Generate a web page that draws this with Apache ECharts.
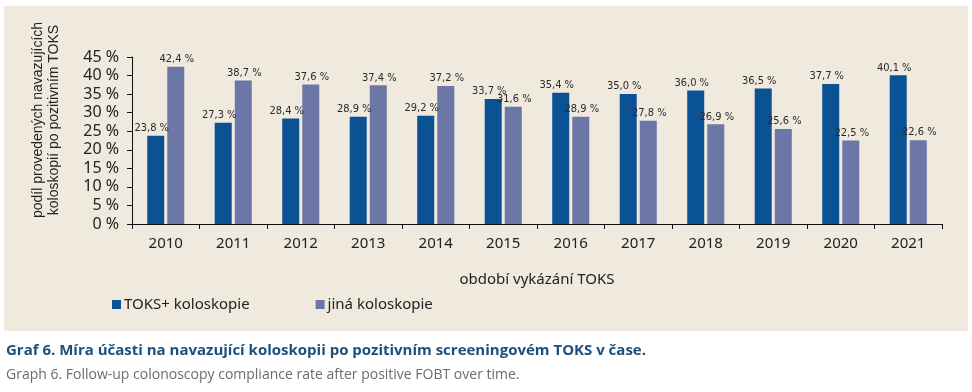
<!DOCTYPE html>
<html><head><meta charset="utf-8">
<script src="https://cdn.jsdelivr.net/npm/echarts@6/dist/echarts.min.js"></script>
<style>html,body{margin:0;padding:0;background:#fff}#c{width:972px;height:392px}</style>
</head><body><div id="c"></div>
<script>
const years = ['2010','2011','2012','2013','2014','2015','2016','2017','2018','2019','2020','2021'];
const toksPlus = [23.8, 27.3, 28.4, 28.9, 29.2, 33.7, 35.4, 35.0, 36.0, 36.5, 37.7, 40.1];
const jina = [42.4, 38.7, 37.6, 37.4, 37.2, 31.6, 28.9, 27.8, 26.9, 25.6, 22.5, 22.6];
const yTicks = [0, 5, 10, 15, 20, 25, 30, 35, 40, 45];
const seriesNames = ['TOKS+ koloskopie', 'jiná koloskopie'];

const font = 'Noto Sans';
const lblFont = '"DejaVu Sans Condensed", "Liberation Sans Narrow", "Liberation Sans", sans-serif';
const fmtPct = v => v.toFixed(1).replace('.', ',') + ' %';

const chart = echarts.init(document.getElementById('c'));
chart.setOption({
  animation: false,
  backgroundColor: '#ffffff',
  graphic: [
    {type: 'rect', z: -10, shape: {x: 4, y: 6, width: 964, height: 325}, style: {fill: '#efe9de'}},
    {type: 'text', x: 46, y: 120, rotation: Math.PI/2, z: 10,
      style: {text: 'podíl provedených navazujících\nkoloskopií po pozitivním TOKS', font: '14px "Liberation Sans"', fill: '#222', align: 'center', verticalAlign: 'middle', lineHeight: 16}},
    {type: 'text', left: 6, top: 343, style: {text: 'Graf 6. Míra účasti na navazující koloskopii po pozitivním screeningovém TOKS v čase.', font: 'bold 15px "Open Sans"', fill: '#1d4f7c'}},
    {type: 'text', left: 6, top: 368, style: {text: 'Graph 6. Follow-up colonoscopy compliance rate after positive FOBT over time.', font: '14px "Open Sans"', fill: '#6b6b6b'}}
  ],
  grid: {left: 132, right: 30, top: 57, bottom: 168},
  legend: {
    data: seriesNames, left: 107, top: 292, itemWidth: 9, itemHeight: 9, itemGap: 66,
    icon: 'rect',
    textStyle: {fontFamily: font, fontSize: 15, color: '#222', padding: [0,0,0,-2]}
  },
  xAxis: {
    type: 'category', data: years,
    name: 'období vykázání TOKS', nameLocation: 'middle', nameGap: 48,
    nameTextStyle: {fontFamily: font, fontSize: 15, color: '#222'},
    axisLine: {lineStyle: {color: '#111', width: 1}},
    axisTick: {show: true, length: 5, lineStyle: {color: '#111'}},
    axisLabel: {fontFamily: font, fontSize: 15, color: '#222', margin: 12}
  },
  yAxis: {
    type: 'value', min: 0, max: 45, interval: 5,
    axisLine: {show: true, lineStyle: {color: '#111'}},
    axisTick: {show: true, length: 5, lineStyle: {color: '#111'}},
    splitLine: {show: false},
    axisLabel: {fontFamily: font, fontSize: 16, color: '#222', margin: 13,
      formatter: v => yTicks.includes(v) ? v + ' %' : ''}
  },
  series: [
    {name: seriesNames[0], type: 'bar', data: toksPlus, barWidth: 17, barGap: '18%',
      itemStyle: {color: '#0a5294'},
      label: {show: true, position: 'top', distance: 2, offset: [-4, 0], formatter: p => fmtPct(p.value),
        fontFamily: lblFont, fontSize: 11, color: '#2a2a2a'}},
    {name: seriesNames[1], type: 'bar', data: jina, barWidth: 17,
      itemStyle: {color: '#6c77a8'},
      label: {show: true, position: 'top', distance: 2, offset: [1, 0], formatter: p => fmtPct(p.value),
        fontFamily: lblFont, fontSize: 11, color: '#2a2a2a'}}
  ]
});
</script></body></html>
